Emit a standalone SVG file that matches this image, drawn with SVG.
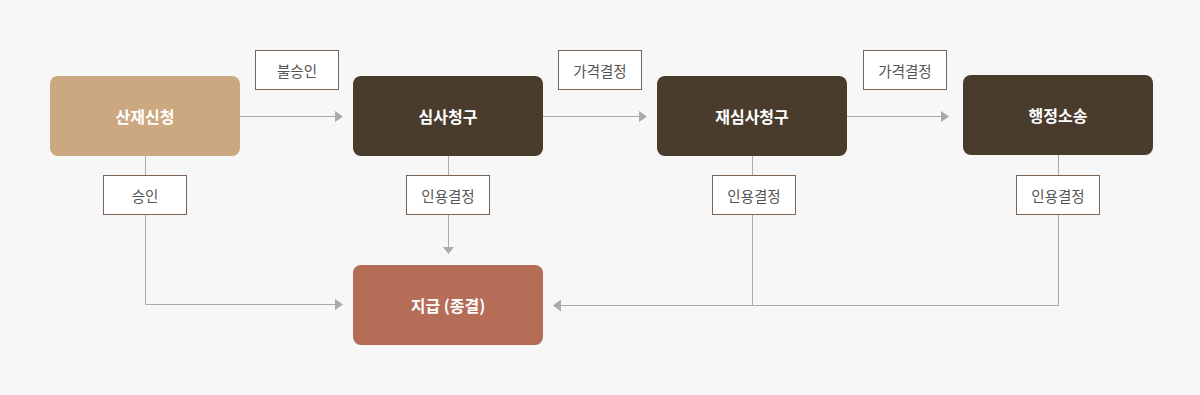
<svg xmlns="http://www.w3.org/2000/svg" width="1200" height="395" viewBox="0 0 1200 395">
<style>
.bg{fill:#f7f7f7}
.node text{font-family:"Noto Sans CJK KR","Noto Sans",sans-serif;font-size:16px;font-weight:700;fill:#ffffff;text-anchor:middle;dominant-baseline:central}
.lbl rect{fill:#ffffff;stroke:#7a6456;stroke-width:1}
.lbl text{font-family:"Noto Sans CJK KR","Noto Sans",sans-serif;font-size:14.5px;fill:#555555;text-anchor:middle;dominant-baseline:central}
.edge{fill:none;stroke:#aaaaaa;stroke-width:1}
.head{fill:#aaaaaa}
</style>
<rect class="bg" x="0" y="0" width="1200" height="395"/>
<g id="connectors">
  <path class="edge" d="M240 116.5H336"/>
  <polygon class="head" points="335,111 343,116.5 335,122"/>
  <path class="edge" d="M543 116.5H640"/>
  <polygon class="head" points="639,111 647,116.5 639,122"/>
  <path class="edge" d="M847 116.5H942"/>
  <polygon class="head" points="941,111 949,116.5 941,122"/>
  <path class="edge" d="M145.5 156V304.5H336"/>
  <polygon class="head" points="335,299 343,304.5 335,310"/>
  <path class="edge" d="M448.5 156V247"/>
  <polygon class="head" points="443,247 448.5,254 454,247"/>
  <path class="edge" d="M752.5 156V305.5"/>
  <path class="edge" d="M1058.5 155V305.5H560"/>
  <polygon class="head" points="561,299.5 553,305.5 561,311.5"/>
</g>
<g id="node-sanjae" class="node">
  <rect x="50" y="76" width="190" height="80" rx="8" fill="#cba880"/>
  <text x="145" y="116">산재신청</text>
</g>
<g id="node-simsa" class="node">
  <rect x="353" y="76" width="190" height="80" rx="8" fill="#4a3c2c"/>
  <text x="448" y="116">심사청구</text>
</g>
<g id="node-jaesimsa" class="node">
  <rect x="657" y="76" width="190" height="80" rx="8" fill="#4a3c2c"/>
  <text x="752" y="116">재심사청구</text>
</g>
<g id="node-haengjeong" class="node">
  <rect x="963" y="75" width="190" height="80" rx="8" fill="#4a3c2c"/>
  <text x="1058" y="115">행정소송</text>
</g>
<g id="node-jigeup" class="node">
  <rect x="353" y="265" width="190" height="80" rx="8" fill="#b56d58"/>
  <text x="448" y="305">지급 (종결)</text>
</g>
<g id="label-bulseungin" class="lbl">
  <rect x="255.5" y="50.5" width="83" height="39"/>
  <text x="297" y="70">불승인</text>
</g>
<g id="label-gagyeok1" class="lbl">
  <rect x="558.5" y="50.5" width="83" height="39"/>
  <text x="600" y="70">가격결정</text>
</g>
<g id="label-gagyeok2" class="lbl">
  <rect x="863.5" y="50.5" width="83" height="39"/>
  <text x="905" y="70">가격결정</text>
</g>
<g id="label-seungin" class="lbl">
  <rect x="103.5" y="175.5" width="83" height="39"/>
  <text x="145" y="195">승인</text>
</g>
<g id="label-inyong1" class="lbl">
  <rect x="406.5" y="175.5" width="83" height="39"/>
  <text x="448" y="195">인용결정</text>
</g>
<g id="label-inyong2" class="lbl">
  <rect x="712.5" y="175.5" width="83" height="39"/>
  <text x="754" y="195">인용결정</text>
</g>
<g id="label-inyong3" class="lbl">
  <rect x="1016.5" y="175.5" width="83" height="39"/>
  <text x="1058" y="195">인용결정</text>
</g>
</svg>
